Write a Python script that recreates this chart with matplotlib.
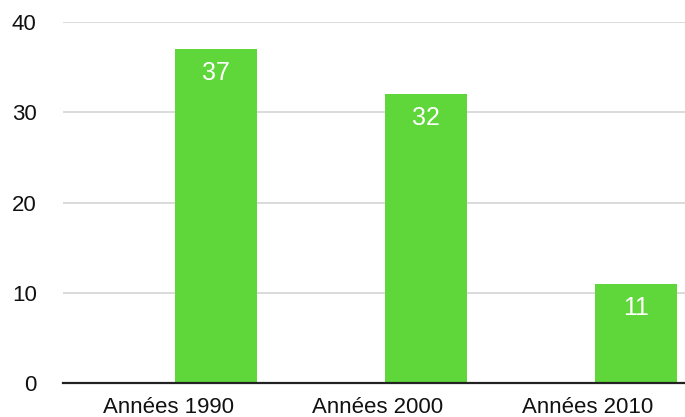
import matplotlib.pyplot as plt
import numpy as np

plt.rcParams['font.family'] = ['Liberation Sans', 'DejaVu Sans']

categories = ["Années 1990", "Années 2000", "Années 2010"]
values = [37, 32, 11]
yticks = [0, 10, 20, 30, 40]

BAR_COLOR = "#5fd63a"

fig = plt.figure(figsize=(6.85, 4.17), dpi=100)
ax = fig.add_axes([0.092, 0.0815, 0.908, 0.865])

x = np.arange(len(categories))
# bars sit in the right half of each category slot
bars = ax.bar(x + 0.229, values, width=0.39, color=BAR_COLOR, zorder=3)

for rect, v in zip(bars, values):
    ax.annotate(str(v), (rect.get_x() + rect.get_width() / 2, rect.get_height()),
                xytext=(0, -8.5), textcoords="offset points",
                ha="center", va="top", color="white", fontsize=18, zorder=4)

ax.set_xlim(-0.5, 2.462)
ax.set_ylim(0, 40)
ax.set_yticks(yticks)
ax.set_xticks(x)
ax.set_xticklabels(categories)
ax.tick_params(axis="both", length=0, labelsize=16, colors="#111111")
ax.tick_params(axis="y", pad=19)
ax.tick_params(axis="x", pad=10)

ax.grid(axis="y", color="#d4d4d4", linewidth=1.2, zorder=0)
for side in ["top", "right", "left"]:
    ax.spines[side].set_visible(False)
ax.spines["bottom"].set_color("#222222")
ax.spines["bottom"].set_linewidth(1.6)
ax.spines["bottom"].set_zorder(5)

fig.savefig("out.png", dpi=100)
